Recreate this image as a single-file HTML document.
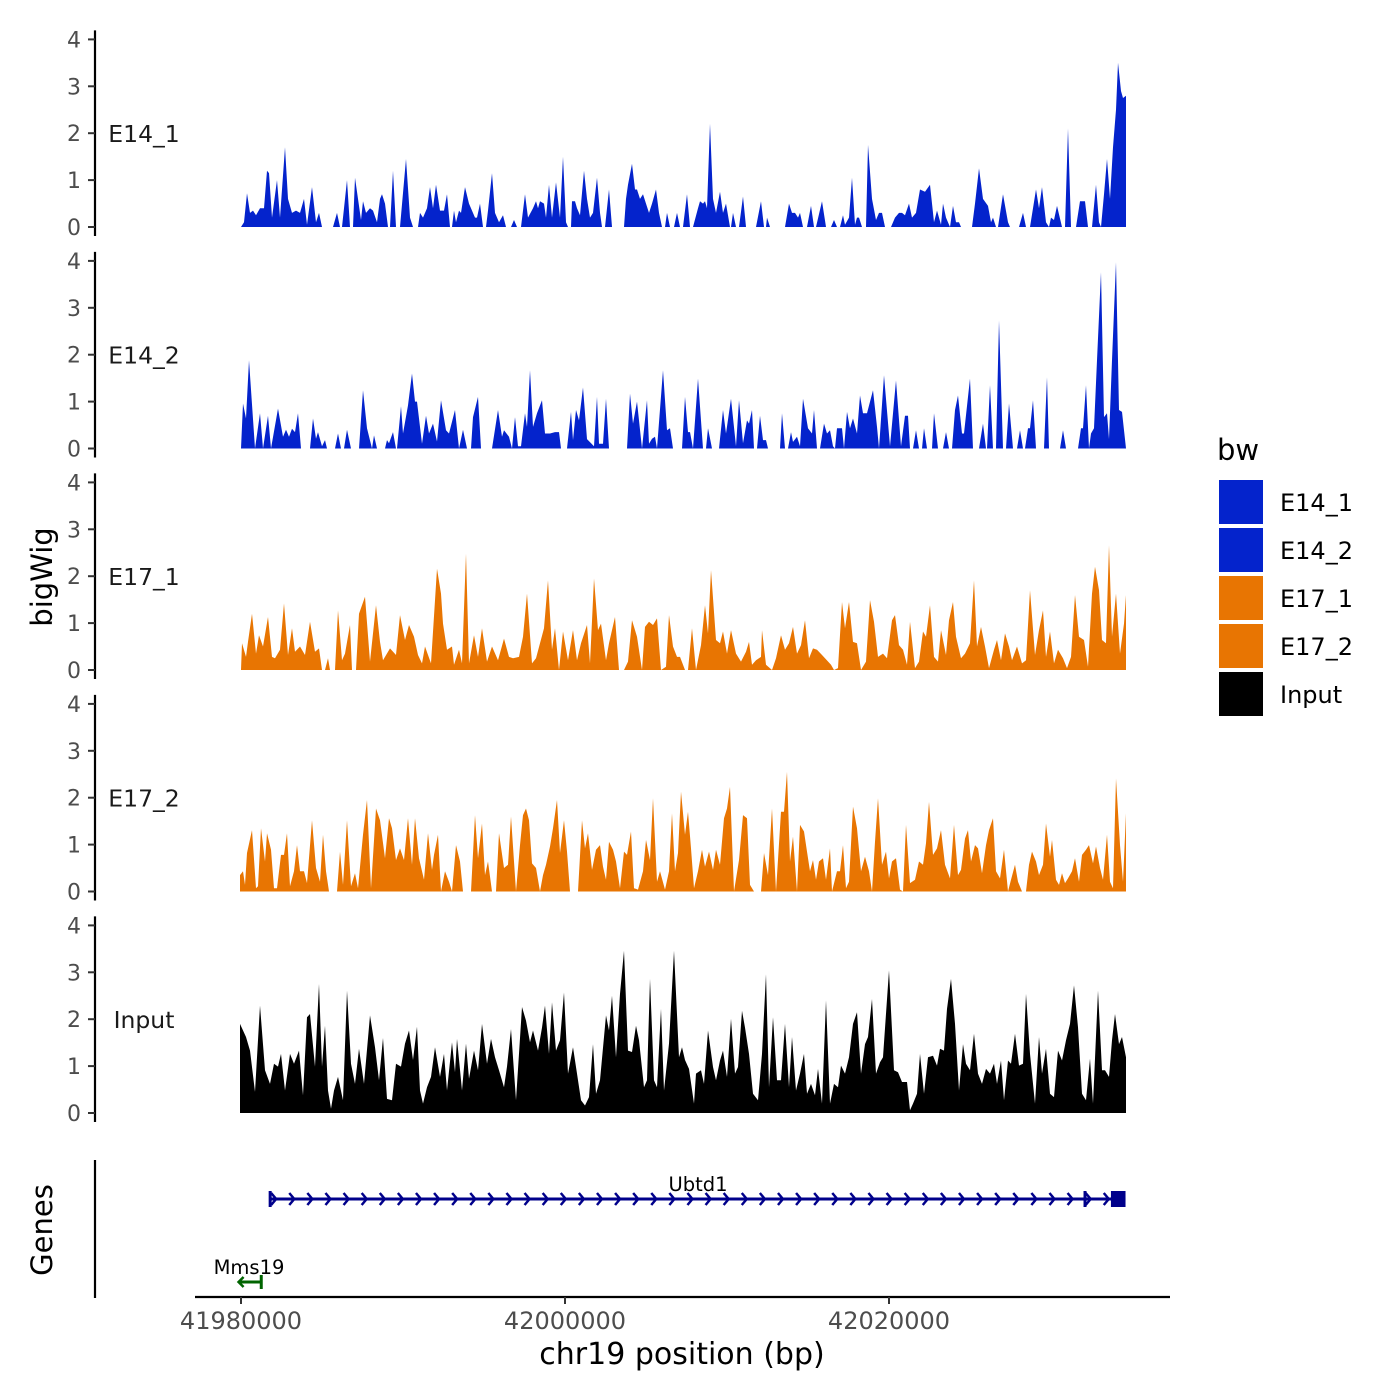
<!DOCTYPE html>
<html><head><meta charset="utf-8"><style>
html,body{margin:0;padding:0;background:#fff;}
svg{display:block;font-family:"DejaVu Sans","Liberation Sans",sans-serif;}
</style></head><body>
<svg id="chart" width="1400" height="1400" viewBox="0 0 1400 1400" xmlns="http://www.w3.org/2000/svg">
<rect x="0" y="0" width="1400" height="1400" fill="#fff"/>
<g id="panels"></g>
<text x="0" y="0" transform="translate(52,577) rotate(-90)" text-anchor="middle" font-size="29" fill="#000">bigWig</text>
<g>
<line x1="95" y1="1160" x2="95" y2="1298" stroke="#000" stroke-width="2.2"/>
<text transform="translate(52,1230) rotate(-90)" text-anchor="middle" font-size="29" fill="#000">Genes</text>
<g id="genes"></g>
</g>
<g id="xaxis">
<line x1="195" y1="1297" x2="1170" y2="1297" stroke="#000" stroke-width="2.2"/>
</g>
<text x="682" y="1364" text-anchor="middle" font-size="30" fill="#000">chr19 position (bp)</text>
<g id="legend">
<text x="1217" y="460" font-size="29" fill="#000">bw</text>
</g>
</svg>
<script>
// genomic position of bin 0; bins are 61.728 bp wide
const BIN_ORIGIN = 41965123.5;
const BIN_BP = 61.728;
const xTicks = [41980000, 42000000, 42020000];
const yTicks = [0, 1, 2, 3, 4];
const sampleNames = ["E14_1", "E14_2", "E17_1", "E17_2", "Input"];
const sampleColors = ["#0423cc", "#0423cc", "#e87502", "#e87502", "#000000"];

const e14_1_bin = [241,244,247,250,253,256,260,264,267,269,272,277,280,285,288,292,296,300,304,307,312,316,319,322,333,337,340,342,347,350,353,355,358,361,363,366,370,373,377,380,382,385,388,390,393,396,400,406,410,413,418,420,423,427,430,433,436,440,444,447,450,452,454,456,459,461,465,469,472,475,477,480,483,486,488,492,495,499,503,506,511,514,517,521,525,528,533,536,538,540,544,546,549,552,556,560,563,566,568,571,572,575,577,580,584,587,590,593,597,600,602,605,609,612,624,626,628,632,635,637,640,643,646,649,652,656,659,662,665,667,670,674,677,680,683,687,690,693,698,700,703,705,707,710,713,716,720,723,726,730,731,733,736,739,743,746,756,761,764,766,767,770,785,789,792,795,798,800,803,807,811,814,816,822,826,831,834,837,840,843,845,849,852,855,857,859,862,866,868,872,876,879,882,885,891,895,899,902,905,909,912,916,920,925,930,934,937,941,943,946,950,953,956,959,961,972,975,979,983,988,991,993,996,998,1003,1008,1010,1019,1023,1026,1030,1036,1039,1042,1046,1049,1051,1054,1057,1062,1065,1068,1071,1076,1080,1085,1088,1092,1096,1099,1101,1104,1107,1110,1113,1116,1118,1121,1123,1126];
const e14_1_val = [0,0.1,0.72,0.3,0.35,0.25,0.4,0.4,1.2,1.15,0.2,1.0,0.2,1.7,0.6,0.3,0.35,0.3,0.6,0.05,0.85,0.1,0.3,0,0,0.3,0,0,1.0,0,0,1.05,0.6,0.15,0.55,0.3,0.4,0.35,0.1,0.6,0.7,0.5,0,0,1.2,0,0,1.45,0.2,0,0,0.3,0.2,0.4,0.85,0.4,0.9,0.35,0.35,0.7,0,0,0.35,0.1,0.35,0.3,0.85,0.5,0.35,0.2,0.2,0.5,0,0,0.35,1.15,0.3,0.1,0.25,0,0,0.15,0,0,0.7,0.2,0.4,0.55,0.4,0.55,0.5,0.2,0.9,0.2,0.95,0.2,1.5,0.1,0,0,0.55,0.55,0.4,0.25,1.2,0.6,0.2,0.3,1.05,0.3,0,0,0.8,0,0,0.6,0.9,1.35,0.8,0.8,0.6,0.7,0.5,0.3,0.5,0.8,0.3,0,0,0.3,0,0,0.3,0,0,0.7,0,0,0.4,0.55,0.5,0.55,0.4,2.2,0.6,0.3,0.75,0.3,0.5,0,0,0.3,0,0,0.65,0,0,0.55,0,0,0.2,0,0,0.5,0.3,0.3,0.2,0.3,0,0,0.45,0,0,0.55,0,0,0.15,0,0,0.25,0.05,0.2,1.05,0.05,0.2,0.2,0,0,1.75,0.6,0.15,0.3,0.3,0,0,0.2,0.3,0.3,0.25,0.5,0.2,0.3,0.8,0.75,0.9,0.1,0.35,0.05,0.5,0.2,0,0.45,0.1,0.1,0,0,0.5,1.25,0.6,0.45,0.1,0.2,0,0,0.7,0.1,0,0,0.3,0,0,0.8,0.4,0.85,0.1,0,0.2,0.15,0.45,0,0,2.1,0,0,0.55,0.55,0,0,0.9,0.1,0,0.7,1.45,0.6,1.7,2.5,3.5,2.9,2.75,2.8];

const e14_2_bin = [241,243,246,249,255,260,263,268,271,278,283,286,289,292,295,298,301,310,313,316,318,322,325,327,335,338,341,344,347,351,359,363,367,372,374,377,385,387,389,393,396,397,401,403,408,412,415,417,422,426,429,433,437,441,446,449,455,459,463,467,471,473,478,481,492,498,502,504,509,512,515,518,521,525,527,530,533,537,542,545,550,555,559,561,567,571,573,576,579,583,587,594,597,599,603,606,609,627,630,633,637,642,647,649,652,655,657,663,667,670,673,682,685,688,690,693,698,703,706,708,712,719,723,726,731,736,739,743,747,749,752,754,757,760,763,766,768,780,782,785,788,791,793,797,800,803,808,812,814,817,820,824,827,830,833,835,837,842,844,847,850,853,857,860,863,867,873,877,879,884,890,896,901,905,908,910,913,916,919,922,924,927,932,934,938,943,946,949,952,955,958,962,964,970,973,979,983,986,987,990,993,996,999,1003,1006,1009,1013,1017,1020,1023,1025,1028,1030,1033,1036,1044,1047,1049,1060,1063,1066,1078,1081,1083,1086,1089,1091,1094,1097,1101,1104,1107,1109,1112,1116,1119,1122,1126];
const e14_2_val = [0,0.96,0.64,1.88,0,0.75,0,0.7,0,0.85,0.25,0.4,0.25,0.42,0.35,0.75,0,0,0.64,0.21,0.35,0.05,0.18,0,0,0.32,0,0,0.4,0,0,1.24,0.43,0,0.28,0,0,0.18,0.11,0.35,0,0,0.9,0.32,0.92,1.6,1.0,1.0,0.1,0.7,0.32,0.53,0.15,1.03,0.39,0.32,0.82,0,0.4,0,0,0.67,1.1,0,0,0.82,0.25,0.39,0.25,0,0.67,0.05,0.05,0.75,0.46,1.67,0.46,0.75,1.03,0.32,0.32,0.35,0.35,0,0,0.78,0.18,0.82,0.6,1.3,0.2,0.05,1.1,0.1,0.1,1.06,0,0,1.17,0.53,1.0,0,1.03,0.1,0.21,0.25,0,1.67,0.39,0.43,0,0,1.1,0.35,0.35,0,1.49,0,0,0.43,0,0,0.82,0.32,1.06,0.05,1.03,0.11,0.6,0.53,0.82,0,0,0.7,0.18,0.18,0,0,0.75,0,0,0.35,0.14,0.25,0.05,1.06,0.43,0.32,0.82,0,0,0.53,0.32,0.39,0.05,0,0.43,0.43,0,0.78,0.43,0.64,0.32,1.13,0.75,0.75,1.24,0.46,0,1.56,0.05,1.45,0.05,0.7,0.7,0,0,0.39,0,0,0.43,0,0,0.75,0,0,0.35,0,0,0.82,1.13,0.32,0.32,1.49,0,0,0.53,0,0,1.35,0,0,2.73,0,0,0.96,0,0,0.39,0,0,0.43,0.43,1.03,0,0,1.52,0,0,0.39,0,0,0.43,0.43,1.35,0,0.32,0.43,1.88,3.76,0.67,0.75,0.2,1.88,3.97,0.82,0.78,0];

const e17_1_bin = [241,242,246,248,252,256,259,263,268,272,275,280,284,288,292,295,300,305,310,315,319,322,325,328,330,335,338,342,345,350,352,356,359,365,370,376,380,383,390,396,400,405,409,414,418,422,425,431,437,441,443,447,452,454,459,462,466,469,474,478,482,487,492,498,504,509,513,519,523,527,532,536,540,544,548,552,555,559,563,568,573,577,581,587,590,594,598,601,606,609,615,619,624,628,632,637,642,645,649,653,657,661,666,669,673,677,680,685,688,692,696,701,705,708,711,716,720,723,727,731,736,741,746,749,752,756,761,762,766,772,776,781,785,789,793,797,801,805,809,813,817,822,825,831,834,838,842,845,849,853,857,861,866,870,874,878,883,887,892,895,899,903,907,910,915,919,923,926,930,934,938,941,946,949,953,956,961,965,970,974,977,981,985,989,994,997,1001,1005,1009,1012,1017,1022,1026,1030,1035,1039,1043,1046,1050,1054,1058,1063,1067,1071,1075,1079,1084,1088,1092,1095,1099,1102,1106,1109,1112,1116,1120,1124,1126];
const e17_1_val = [0,0.57,0.28,0.6,1.2,0.35,0.74,0.5,1.13,0.28,0.25,0.43,1.42,0.32,0.89,0.39,0.5,0.32,1.03,0.39,0.46,0,0,0.25,0,0,1.27,0.21,0.35,0.96,0,0,1.2,1.56,0.18,1.38,0.6,0.21,0.46,0.32,1.17,0.64,0.96,0.71,0.32,0.14,0.5,0.14,2.16,1.63,0.99,0.43,0.5,0.11,0.43,0.14,2.48,0.14,0.74,0.28,0.89,0.18,0.5,0.21,0.67,0.28,0.25,0.28,0.71,1.63,0.14,0.25,0.57,0.89,1.91,0.43,0.89,0,0.82,0.21,0.85,0.21,0.57,0.96,0.14,1.95,0.85,0.99,0.21,0.57,1.13,0,0,0.18,1.06,0.71,0,0.92,1.03,0.96,1.1,0,0.07,1.17,0.5,0.28,0.28,0,0,0.89,0,0.53,1.38,0.78,2.13,0.64,0.57,0.82,0.35,0.85,0.35,0.18,0.39,0.6,0.11,0.21,0.28,0.85,0.11,0,0.25,0.74,0.43,0.57,0.92,0.35,0.53,1.06,0.25,0.46,0.43,0.32,0.25,0.11,0,0.04,1.45,0.89,1.45,0.6,0.57,0,0.18,1.49,1.03,0.28,0.35,0.25,1.06,1.17,0.53,0.43,0.11,1.03,0.04,0.18,0.82,0.71,1.38,0.28,0.18,0.85,0.32,1.06,1.45,0.71,0.25,0.35,0.57,1.91,0.5,0.92,0.5,0.04,0.43,0.64,0.21,0.78,0.5,0.21,0.5,0.14,0.21,1.7,0.32,0.85,1.27,0.28,0.82,0.14,0.43,0.25,0.04,0.28,1.6,0.71,0.64,0.07,1.63,2.2,1.7,0.64,0.57,2.66,0.71,1.63,0.35,0.99,1.6];

const e17_2_bin = [240,243,245,247,252,256,258,261,265,267,271,274,277,281,284,287,290,294,297,300,304,307,312,316,320,323,326,329,337,340,343,347,351,355,358,363,367,371,376,380,385,389,392,396,400,404,408,412,415,419,424,428,432,434,438,441,445,449,452,456,460,463,471,475,478,482,485,488,492,496,499,504,508,511,516,520,523,526,529,532,536,540,543,546,550,553,557,560,564,567,570,578,582,585,588,592,596,600,603,606,609,613,616,620,624,627,631,634,638,643,646,650,653,657,660,665,669,672,675,678,681,685,688,691,694,698,702,705,709,713,716,720,724,727,730,734,739,743,747,750,754,761,764,768,772,776,781,784,787,790,793,797,800,804,807,810,813,816,819,823,826,830,832,837,840,843,846,849,853,857,861,865,869,872,875,878,882,886,889,892,896,900,903,906,910,915,919,923,926,929,933,937,941,945,950,954,958,961,965,968,971,975,978,982,986,989,993,996,1000,1004,1008,1011,1015,1018,1022,1026,1029,1032,1036,1039,1043,1046,1050,1052,1056,1059,1062,1065,1068,1072,1075,1079,1082,1086,1089,1093,1096,1100,1103,1107,1110,1113,1116,1120,1123,1126];
const e17_2_val = [0.35,0.43,0.14,0.82,1.31,0.07,0.11,1.35,0.64,1.24,0.89,0.07,0.07,0.78,0.78,1.24,0.11,0.43,0.99,0.43,0.43,0.18,1.52,0.5,0.21,1.21,0.43,0,0,0.85,0.14,1.52,0.11,0.39,0.07,1.21,1.95,0.07,1.77,1.52,0.71,1.56,1.35,0.67,0.92,0.67,1.56,0.57,1.56,0.71,0.25,1.24,0.46,0.78,1.21,0,0.43,0.21,0,0.99,0.64,0,0,1.63,0.71,1.45,0.35,0.64,0,0,1.24,0.5,0.57,1.6,0,0.99,1.63,1.77,1.52,0.6,0.5,0,0.35,0.57,0.96,1.35,1.95,0.82,1.52,0.85,0,0,1.52,0.92,1.24,0.46,0.89,0.99,0.53,0.25,1.06,0.89,0.64,0.07,0.85,0.78,1.28,0.07,0.04,0.43,1.1,0.67,1.99,0.21,0.43,0.04,0.43,1.67,0.43,0.82,2.13,1.21,1.7,0.92,0.07,0.43,0.89,0.53,0.85,0.46,0.89,0.57,1.56,1.77,2.23,0,0.67,1.63,1.56,0.14,0,0,0.82,0.35,1.77,0,1.7,1.7,2.55,0.64,1.17,0,1.42,1.28,0.85,0.43,0.67,0.25,0.64,0.71,0.25,0.92,0,0.43,0.43,0.99,0.07,0.21,1.81,1.35,0.43,0.74,0.43,0,1.06,1.99,0.57,0.85,0.28,0.64,0.71,0.04,0,1.42,0.18,0.25,0.64,0.57,1.03,1.91,0.78,0.92,1.31,0.57,0.28,1.42,0.35,0.46,1.13,1.31,0.64,0.99,0.92,0.39,0.99,1.31,1.56,0.43,0.28,0.89,0,0.25,0.57,0.21,0,0,0.57,0.85,0.64,0.35,0.57,1.45,0.74,1.1,0.25,0.14,0.39,0.18,0.28,0.43,0.71,0.21,0.78,0.89,0.99,0.6,0.96,0.5,0.25,1.21,0.21,0.07,2.41,0.99,0.21,1.67];

const input_bin = [240,246,250,255,260,265,270,274,278,281,285,290,294,299,303,307,310,315,319,322,325,328,331,334,338,343,347,351,355,359,364,370,375,379,383,387,392,396,401,405,409,413,417,420,423,427,431,435,440,444,447,452,455,457,462,466,469,474,478,482,487,491,495,499,504,507,511,516,522,526,530,533,538,542,545,549,552,556,560,564,568,573,577,581,585,589,593,596,600,606,609,612,616,620,624,628,632,636,639,644,647,650,654,657,661,664,669,674,679,682,685,689,694,696,701,704,708,713,716,720,723,727,731,735,738,742,745,749,753,758,762,766,769,773,777,781,785,789,792,796,800,804,807,811,815,818,822,826,830,834,838,841,845,849,853,857,861,865,868,872,876,880,883,889,894,898,902,907,910,913,917,920,924,928,933,937,940,944,947,951,955,959,963,966,970,974,978,982,986,990,994,997,1001,1004,1008,1011,1015,1019,1023,1026,1030,1035,1039,1042,1046,1050,1054,1058,1062,1066,1070,1074,1078,1082,1086,1090,1093,1098,1102,1105,1109,1112,1115,1119,1122,1126];
const input_val = [1.9,1.62,1.33,0.45,2.29,0.91,0.62,1.05,0.99,1.26,0.48,1.26,1.05,1.33,0.38,2.04,2.11,0.99,2.75,0.99,1.86,0.48,0.09,0.48,0.77,0.27,2.61,1.05,0.62,1.37,0.62,2.08,1.4,0.7,1.6,0.3,0.27,1.05,0.99,1.48,1.76,1.13,1.84,0.48,0.2,0.55,0.77,1.4,0.77,1.26,0.48,1.51,0.87,1.58,0.48,1.48,0.73,1.33,0.91,1.9,1.05,1.58,1.19,0.91,0.55,0.99,1.79,0.27,2.26,1.97,1.51,1.76,1.33,1.82,2.29,1.26,2.36,1.33,1.55,2.57,0.84,1.4,0.84,0.27,0.16,0.34,1.47,0.41,0.7,2.08,1.76,2.5,1.19,2.54,3.46,1.33,1.3,1.86,1.55,0.55,0.7,2.86,0.7,0.55,2.22,0.48,1.48,3.46,1.19,1.4,1.13,0.94,0.2,0.84,0.91,0.62,1.76,0.98,0.7,1.12,1.33,0.77,2.01,0.84,0.98,2.18,1.82,1.26,0.41,0.27,1.26,2.96,0.55,2.04,0.7,0.7,1.9,0.55,1.62,0.48,0.84,1.26,0.41,0.62,0.38,0.94,0.2,2.4,0.2,0.62,0.55,1.01,0.84,1.19,1.9,2.15,0.84,1.47,1.62,2.43,0.84,1.08,1.19,3.04,0.91,0.87,0.66,0.66,0.06,0.2,0.41,1.26,0.41,1.19,1.22,1.01,1.37,1.33,2.22,2.86,1.9,0.48,1.47,1.05,0.91,1.69,0.84,0.62,0.94,0.84,1.05,0.62,1.12,0.27,1.12,1.05,1.69,1.01,1.05,2.54,1.26,0.2,1.62,0.84,1.37,0.41,0.34,1.33,1.12,1.55,1.9,2.72,1.83,0.41,0.27,1.16,0.2,2.61,0.91,0.91,0.77,1.55,2.11,1.47,1.62,1.19];

const seriesBins = [e14_1_bin, e14_2_bin, e17_1_bin, e17_2_bin, input_bin];
const seriesVals = [e14_1_val, e14_2_val, e17_1_val, e17_2_val, input_val];

const genePos = {ubtd1Start: 41981800, ubtd1End: 42034600, ubtd1Exon2: 42032100, ubtd1LastExon: 42033700, mms19Start: 41979850, mms19End: 41981250};

const NS = "http://www.w3.org/2000/svg";
function mk(tag, attrs, parent){const e=document.createElementNS(NS,tag);for(const k in attrs)e.setAttribute(k,attrs[k]);parent.appendChild(e);return e;}
function xScale(bp){return 241 + (bp - 41980000) * 0.0162;}
function binToBp(b){return BIN_ORIGIN + b * BIN_BP;}
const PANEL_Y0 = [227, 448.5, 670, 891.5, 1113];
const PX_PER_UNIT = 46.9;
function yScale(p, v){return PANEL_Y0[p] - v * PX_PER_UNIT;}

const panels = document.getElementById('panels');
for (let p = 0; p < sampleNames.length; p++) {
  const g = mk('g', {}, panels);
  
  
  const bins = seriesBins[p], vals = seriesVals[p];
  let d = 'M' + xScale(binToBp(bins[0])).toFixed(1) + ',' + yScale(p,0);
  for (let i = 0; i < bins.length; i++) d += 'L' + xScale(binToBp(bins[i])).toFixed(1) + ',' + yScale(p, vals[i]).toFixed(1);
  d += 'L' + xScale(binToBp(bins[bins.length-1])).toFixed(1) + ',' + yScale(p,0) + 'Z';
  const area = mk('path', {d: d, fill: sampleColors[p], stroke: 'none'}, g);
  
  
  const ax = mk('line', {x1: 95, x2: 95, y1: yScale(p, 4) - 9, y2: yScale(p, 0) + 9, stroke: '#000', 'stroke-width': 2.2}, g);
  
  
  for (const t of yTicks) {
    const y = yScale(p, t);
    const tk = mk('line', {x1: 88, x2: 95, y1: y, y2: y, stroke: '#333', 'stroke-width': 2}, g);
    
    
    const tl = mk('text', {x: 81, y: y + 8, 'text-anchor': 'end', 'font-size': 22, fill: '#4d4d4d'}, g);
    
    
    tl.textContent = t;
  }
  const lab = mk('text', {x: 144, y: yScale(p, 2) + 9, 'text-anchor': 'middle', 'font-size': 23.5, fill: '#1a1a1a'}, g);
  
  
  lab.textContent = sampleNames[p];
}

// x-axis ticks
const xaxis = document.getElementById('xaxis');
for (const t of xTicks) {
  const x = xScale(t);
  const tk = mk('line', {x1: x, x2: x, y1: 1297, y2: 1304, stroke: '#333', 'stroke-width': 2}, xaxis);
  
  
  const tl = mk('text', {x: x, y: 1329, 'text-anchor': 'middle', 'font-size': 24, fill: '#4d4d4d'}, xaxis);
  
  
  tl.textContent = t;
}

// genes
const genes = document.getElementById('genes');
const navy = '#00008b';
const gy = 1199;
const ux1 = xScale(genePos.ubtd1Start), ux2 = xScale(genePos.ubtd1End);
const ub = mk('g', {}, genes);


mk('line', {x1: ux1, x2: ux2, y1: gy, y2: gy, stroke: navy, 'stroke-width': 3}, ub);
for (let x = ux1 + 4; x < ux2 - 18; x += 18.1) {
  mk('polyline', {points: (x-3)+','+(gy-6)+' '+(x+2)+','+gy+' '+(x-3)+','+(gy+6), fill: 'none', stroke: navy, 'stroke-width': 2.5}, ub);
}
mk('rect', {x: ux1 - 1.5, y: gy - 8, width: 3, height: 16, fill: navy}, ub);
mk('rect', {x: xScale(genePos.ubtd1Exon2) - 1.5, y: gy - 8, width: 3, height: 16, fill: navy}, ub);
mk('rect', {x: xScale(genePos.ubtd1LastExon), y: gy - 8, width: ux2 - xScale(genePos.ubtd1LastExon), height: 16, fill: navy}, ub);
const ul = mk('text', {x: 698, y: 1191, 'text-anchor': 'middle', 'font-size': 19.5, fill: '#000'}, ub);


ul.textContent = 'Ubtd1';
const mm = mk('g', {}, genes);


const mx1 = xScale(genePos.mms19Start), mx2 = xScale(genePos.mms19End);
const green = '#006400';
mk('line', {x1: mx1, x2: mx2, y1: 1282, y2: 1282, stroke: green, 'stroke-width': 3}, mm);
mk('polyline', {points: (mx1+5)+',1277 '+mx1+',1282 '+(mx1+5)+',1287', fill: 'none', stroke: green, 'stroke-width': 2.5}, mm);
mk('rect', {x: mx2 - 1.5, y: 1275, width: 3, height: 14, fill: green}, mm);
const ml = mk('text', {x: 249, y: 1274, 'text-anchor': 'middle', 'font-size': 19.5, fill: '#000'}, mm);


ml.textContent = 'Mms19';

// legend
const legend = document.getElementById('legend');
for (let i = 0; i < sampleNames.length; i++) {
  const y = 480 + i * 48;
  const g = mk('g', {}, legend);
  
  
  mk('rect', {x: 1219, y: y, width: 44, height: 44, fill: sampleColors[i]}, g);
  const t = mk('text', {x: 1280, y: y + 31, 'font-size': 24, fill: '#000'}, g);
  t.textContent = sampleNames[i];
}
</script>
</body></html>
